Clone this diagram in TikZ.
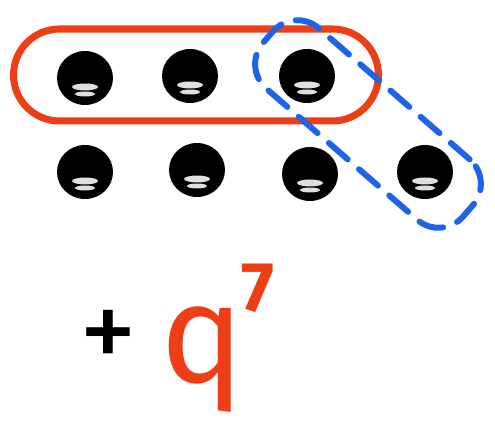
\documentclass[tikz,border=0pt]{standalone}
\usepackage{fontspec}
\setmainfont{Fira Sans}
\usetikzlibrary{shapes.geometric}
\definecolor{inkred}{RGB}{238,62,22}
\definecolor{inkblue}{RGB}{30,100,232}
\begin{document}
\begin{tikzpicture}[x=0.02cm,y=-0.02cm,
  bead/.style={ellipse, fill=black, minimum width=1.12cm, minimum height=1.08cm, inner sep=0pt},
  shine/.style={fill=white!75!gray},
  redloop/.style={draw=inkred, line width=4pt, rounded corners=0.92cm, minimum width=7.3cm, minimum height=1.84cm, inner sep=0pt},
  blueloop/.style={draw=inkblue, line width=3.4pt, line cap=round, dash pattern=on 0.5cm off 0.3cm, rounded corners=0.65cm, minimum width=5.3cm, minimum height=1.6cm, inner sep=0pt},
  plusmark/.style={text=black, font=\fontsize{66}{66}\selectfont, inner sep=0pt},
  bigq/.style={text=inkred, font=\fontsize{80}{80}\selectfont, inner sep=0pt},
  expo/.style={text=inkred, font=\bfseries\fontsize{40}{40}\selectfont, inner sep=0pt}]
\useasboundingbox (0,0) rectangle (495,421);
\fill[white] (0,0) rectangle (495,421);
% beads
\node[bead] (a1) at (85,78) {};
\node[bead] (a2) at (190,76) {};
\node[bead] (a3) at (307,76) {};
\node[bead] (b1) at (85,172) {};
\node[bead] (b2) at (197,170) {};
\node[bead] (b3) at (310,174) {};
\node[bead] (b4) at (425,172) {};
\foreach \d in {a1,a2,a3,b1,b2,b3,b4}{
  \fill[shine] ([yshift=-0.18cm]\d.center) ellipse [x radius=0.26cm, y radius=0.07cm];
  \fill[shine] ([yshift=-0.32cm]\d.center) ellipse [x radius=0.2cm, y radius=0.05cm];
}
% loops
\node[redloop] (red) at (196,75) {};
\node[blueloop, rotate=-41] (blue) at (368,124) {};
% text
\node[plusmark] (plus) at (108,340) {+};
\node[bigq] (q) at (203,360) {q};
\node[expo] (seven) at (258,288) {7};
\end{tikzpicture}
\end{document}
